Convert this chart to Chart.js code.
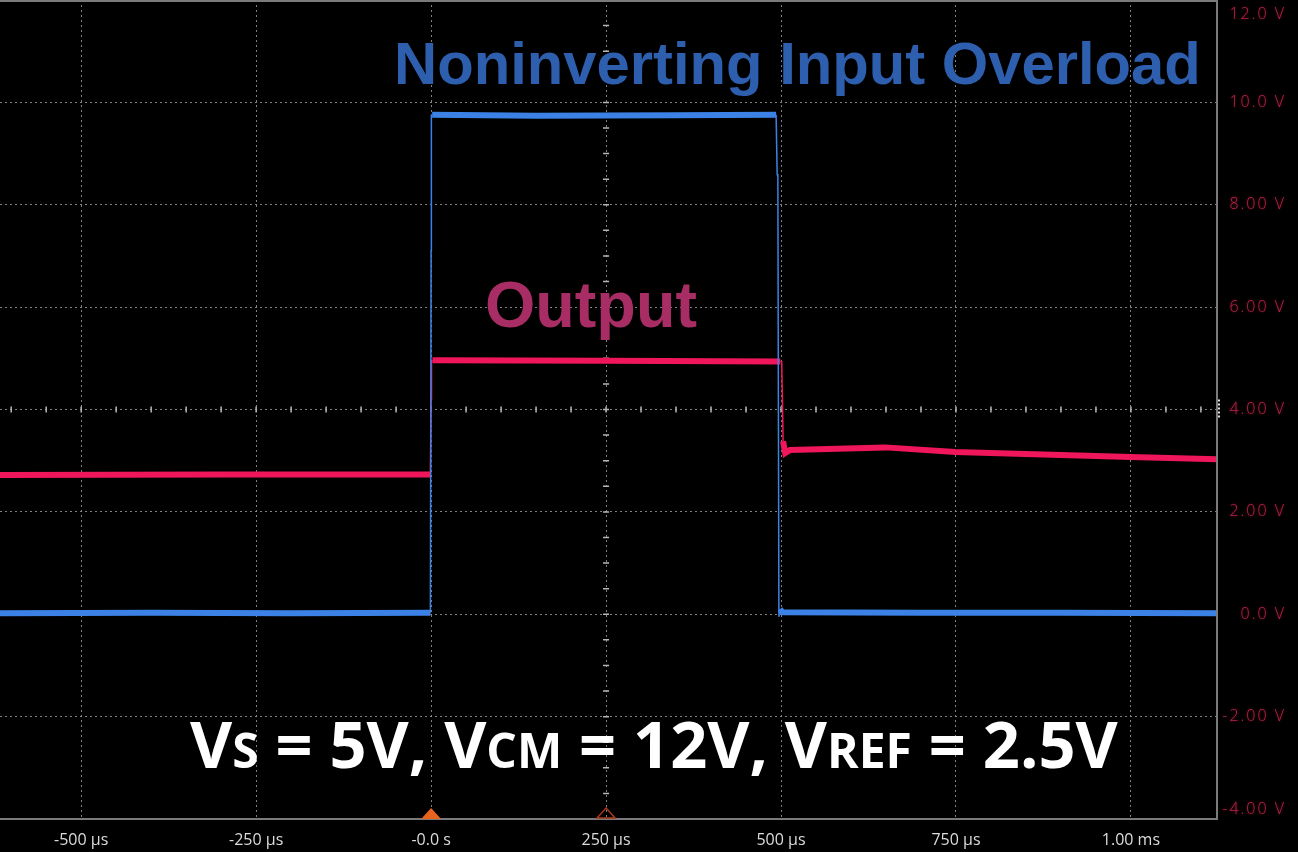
<!DOCTYPE html>
<html>
<head>
<meta charset="utf-8">
<script src="https://cdn.jsdelivr.net/npm/chart.js@4.4.1/dist/chart.umd.min.js"></script>
<style>
html, body { margin: 0; padding: 0; background: #000; }
canvas { display: block; }
</style>
</head>
<body>
<canvas id="scope" width="1298" height="852"></canvas>
<script>
// time axis in microseconds, volts on the right axis
var xTicks = [-500, -250, 0, 250, 500, 750, 1000];
var xTickLabels = ['-500 µs', '-250 µs', '-0.0 s', '250 µs', '500 µs', '750 µs', '1.00 ms'];
var yTicks = [12, 10, 8, 6, 4, 2, 0, -2, -4];
var yTickLabels = ['12.0 V', '10.0 V', '8.00 V', '6.00 V', '4.00 V', '2.00 V', '0.0 V', '-2.00 V', '-4.00 V'];

// noninverting input (blue)
var blueTime = [-616, -400, -200, -1, 0, 0.4, 1.5, 150, 350, 493, 494.5, 495.5, 497, 498.5, 502, 700, 900, 1123];
var blueVolts = [0.02, 0.03, 0.02, 0.03, 7.1, 9.75, 9.76, 9.74, 9.75, 9.76, 8.6, 8.55, -0.05, 0.1, 0.04, 0.03, 0.03, 0.02];

// output (pink)
var pinkTime = [-616, -300, -1, 0, 0.6, 2, 250, 499, 501, 502, 503, 506, 513, 649, 749, 1000, 1123];
var pinkVolts = [2.72, 2.73, 2.73, 4.2, 4.93, 4.96, 4.95, 4.94, 4.93, 4.2, 3.38, 3.15, 3.21, 3.26, 3.17, 3.07, 3.03];

function toPoints(t, v) {
    return t.map(function (x, i) { return { x: x, y: v[i] }; });
}

function edgeWidth(thick) {
    return function (ctx) {
        return Math.abs(ctx.p1.parsed.x - ctx.p0.parsed.x) < 3 ? 1.5 : thick;
    };
}

var scopeDecor = {
    id: 'scopeDecor',
    beforeDraw: function (chart) {
        var c = chart.ctx;
        c.save();
        c.fillStyle = '#000';
        c.fillRect(0, 0, chart.width, chart.height);
        c.restore();
    },
    beforeDatasetsDraw: function (chart) {
        var c = chart.ctx, xs = chart.scales.x, ys = chart.scales.y;
        var cy = ys.getPixelForValue(4), cx = xs.getPixelForValue(250);
        c.save();
        c.strokeStyle = '#b8b8b8';
        c.lineWidth = 1.5;
        c.beginPath();
        for (var t = -600; t <= 1100; t += 50) {
            var px = xs.getPixelForValue(t);
            c.moveTo(px, cy - 3); c.lineTo(px, cy + 3);
        }
        for (var v = -4; v <= 12; v += 0.5) {
            var py = ys.getPixelForValue(v);
            c.moveTo(cx - 3, py); c.lineTo(cx + 3, py);
        }
        c.stroke();
        c.restore();
    },
    afterDraw: function (chart) {
        var c = chart.ctx, a = chart.chartArea, xs = chart.scales.x, ys = chart.scales.y;
        c.save();
        // frame
        c.strokeStyle = '#7a7a7a';
        c.lineWidth = 2;
        c.beginPath();
        c.moveTo(0, a.top + 1); c.lineTo(a.right, a.top + 1);
        c.lineTo(a.right, a.bottom); c.lineTo(0, a.bottom);
        c.stroke();

        // small marker on the right edge
        c.strokeStyle = '#e0e0e0';
        c.setLineDash([2, 2]);
        c.beginPath();
        var my = ys.getPixelForValue(4);
        c.moveTo(a.right + 2, my - 10); c.lineTo(a.right + 2, my + 10);
        c.stroke();
        c.setLineDash([]);

        // trigger markers
        var t0 = xs.getPixelForValue(0), t1 = xs.getPixelForValue(250);
        c.fillStyle = '#e8631e';
        c.beginPath();
        c.moveTo(t0, a.bottom - 11); c.lineTo(t0 + 10, a.bottom); c.lineTo(t0 - 10, a.bottom);
        c.closePath(); c.fill();
        c.strokeStyle = '#a8381c';
        c.lineWidth = 1.5;
        c.beginPath();
        c.moveTo(t1, a.bottom - 11); c.lineTo(t1 + 9, a.bottom - 1); c.lineTo(t1 - 9, a.bottom - 1);
        c.closePath(); c.stroke();

        // volt labels
        c.font = '300 16px "Open Sans"';
        c.letterSpacing = '2px';
        c.fillStyle = '#b8244a';
        c.shadowColor = 'rgba(200,30,70,0.6)';
        c.shadowBlur = 3;
        c.textAlign = 'right';
        c.textBaseline = 'middle';
        yTicks.forEach(function (v, i) {
            var py = Math.min(Math.max(ys.getPixelForValue(v), 14), 809);
            c.fillText(yTickLabels[i], 1286, py);
        });
        c.shadowBlur = 0;
        c.letterSpacing = '0px';

        // titles
        c.textAlign = 'left';
        c.textBaseline = 'alphabetic';
        fitText(c, 'Noninverting Input Overload', 'bold', '"Liberation Sans"', 57, 807, '#2d5fae', 394, 84);
        fitText(c, 'Output', 'bold', '"Liberation Sans"', 58, 212, '#a82d64', 485, 327);

        // conditions line with small-cap subscripts
        var parts = [['V', 1], ['S', 0.74], [' = 5V, ', 1], ['V', 1], ['CM', 0.74], [' = 12V, ', 1],
                     ['V', 1], ['REF', 0.74], [' = 2.5V', 1]];
        var base = 63, total = 0;
        parts.forEach(function (p) {
            c.font = 'bold ' + (base * p[1]) + 'px "Open Sans"';
            total += c.measureText(p[0]).width;
        });
        var k = 928 / total, x = 190;
        c.fillStyle = '#ffffff';
        parts.forEach(function (p) {
            c.font = 'bold ' + (base * p[1] * k) + 'px "Open Sans"';
            c.fillText(p[0], x, 768);
            x += c.measureText(p[0]).width;
        });
        c.restore();
    }
};

function fitText(c, text, weight, family, size, width, color, x, y) {
    c.font = weight + ' ' + size + 'px ' + family;
    var s = size * width / c.measureText(text).width;
    c.font = weight + ' ' + s + 'px ' + family;
    c.fillStyle = color;
    c.fillText(text, x, y);
}

var gridStyle = { color: 'rgba(150,150,150,0.85)', lineWidth: 1, drawTicks: false };

new Chart(document.getElementById('scope').getContext('2d'), {
    type: 'line',
    data: {
        datasets: [{
            label: 'Input',
            data: toPoints(blueTime, blueVolts),
            borderColor: '#3c82e6',
            borderWidth: 6,
            pointRadius: 0,
            tension: 0,
            segment: { borderWidth: edgeWidth(6) }
        }, {
            label: 'Output',
            data: toPoints(pinkTime, pinkVolts),
            borderColor: '#f0165c',
            borderWidth: 6,
            pointRadius: 0,
            tension: 0,
            segment: { borderWidth: edgeWidth(6) }
        }]
    },
    options: {
        responsive: false,
        animation: false,
        devicePixelRatio: 1,
        layout: { padding: 0 },
        plugins: {
            legend: { display: false },
            tooltip: { enabled: false }
        },
        scales: {
            x: {
                type: 'linear',
                min: -616,
                max: 1123,
                afterBuildTicks: function (s) {
                    s.ticks = xTicks.map(function (v) { return { value: v }; });
                },
                afterFit: function (s) { s.height = 33; },
                ticks: {
                    color: '#dcdcdc',
                    font: { family: 'Open Sans', size: 16 },
                    padding: 12,
                    maxRotation: 0,
                    autoSkip: false,
                    callback: function (v) { return xTickLabels[xTicks.indexOf(v)]; }
                },
                grid: gridStyle,
                border: { display: false, dash: [2, 3] }
            },
            y: {
                position: 'right',
                min: -4,
                max: 12,
                afterBuildTicks: function (s) {
                    s.ticks = yTicks.map(function (v) { return { value: v }; });
                },
                afterFit: function (s) { s.width = 81; },
                ticks: { display: false },
                grid: gridStyle,
                border: { display: false, dash: [2, 3] }
            }
        }
    },
    plugins: [scopeDecor]
});
</script>
</body>
</html>
